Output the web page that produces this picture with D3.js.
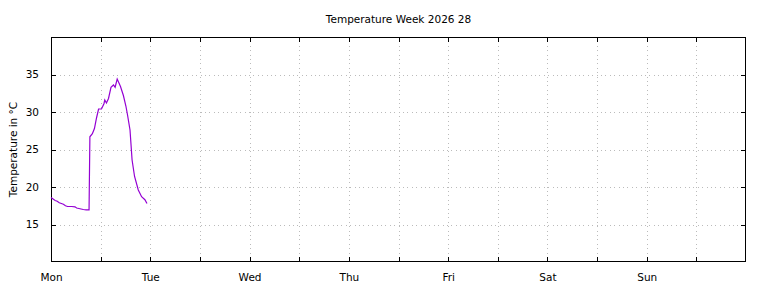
<!DOCTYPE html>
<html>
<head>
<meta charset="utf-8">
<script src="https://cdn.jsdelivr.net/npm/d3@7"></script>
<style>
  body { margin: 0; background: #fff; }
  text { font-family: "DejaVu Sans", sans-serif; }
</style>
</head>
<body>
<div id="chart"></div>
<script>
// Temperature over the week, hours since Monday 00:00
const title = "Temperature Week 2026 28";
const yLabel = "Temperature in °C";
const dayLabels = ["Mon", "Tue", "Wed", "Thu", "Fri", "Sat", "Sun"];
const yTicks = [15, 20, 25, 30, 35];

const hours = [0.0, 0.5, 1.0, 1.5, 2.0, 2.5, 3.0, 3.5, 4.0, 5.0, 5.8, 6.2, 7.0, 7.8, 8.5, 9.2,
  9.4, 10.0, 10.5, 11.0, 11.5, 12.2, 12.8, 13.0, 13.4, 13.9, 14.5, 15.1, 15.5, 16.0,
  16.8, 17.5, 18.1, 18.5, 19.1, 19.6, 20.2, 21.1, 21.9, 22.7, 23.2];
const temps = [18.6, 18.4, 18.2, 18.1, 17.9, 17.8, 17.7, 17.5, 17.4, 17.4, 17.35, 17.2, 17.1, 17.0, 16.95, 16.95,
  26.7, 27.1, 27.8, 29.2, 30.4, 30.4, 31.1, 31.6, 31.2, 31.8, 33.3, 33.6, 33.3, 34.4,
  33.4, 32.2, 30.8, 29.6, 27.6, 23.6, 21.4, 19.6, 18.7, 18.3, 17.8];

const width = 768, height = 288;
const margin = {top: 37, right: 22, bottom: 26, left: 51};

const svg = d3.select("#chart")
    .append("svg")
    .attr("width", width)
    .attr("height", height);

const x = d3.scaleLinear().domain([0, 168]).range([margin.left, width - margin.right]);
const y = d3.scaleLinear().domain([10, 40]).range([height - margin.bottom, margin.top]);

const xTicks = d3.range(12, 168, 12);

// grid
const grid = svg.append("g")
    .attr("stroke", "#bbb")
    .attr("stroke-width", 1)
    .attr("stroke-dasharray", "1,3.4")
    .attr("shape-rendering", "crispEdges");

grid.selectAll(".vg")
    .data(xTicks)
    .enter()
    .append("line")
    .attr("x1", d => Math.round(x(d)) + 0.5)
    .attr("x2", d => Math.round(x(d)) + 0.5)
    .attr("y1", y(40))
    .attr("y2", y(10));

grid.selectAll(".hg")
    .data(yTicks)
    .enter()
    .append("line")
    .attr("x1", x(0))
    .attr("x2", x(168))
    .attr("y1", d => Math.round(y(d)) + 0.5)
    .attr("y2", d => Math.round(y(d)) + 0.5);

// axes (ticks inward, mirrored)
const tickFmt = d => d % 24 === 0 ? dayLabels[d / 24] : "";

const xAxis = svg.append("g")
    .attr("transform", `translate(0,${height - margin.bottom})`)
    .call(d3.axisBottom(x).tickValues(d3.range(0, 168, 12)).tickSize(-5).tickSizeOuter(0).tickPadding(12).tickFormat(tickFmt));

svg.append("g")
    .attr("transform", `translate(0,${margin.top})`)
    .call(d3.axisTop(x).tickValues(xTicks).tickSize(-5).tickSizeOuter(0).tickFormat(""));

const yAxis = svg.append("g")
    .attr("transform", `translate(${margin.left},0)`)
    .call(d3.axisLeft(y).tickValues(yTicks).tickSize(-5).tickSizeOuter(0).tickPadding(12));

svg.append("g")
    .attr("transform", `translate(${width - margin.right},0)`)
    .call(d3.axisRight(y).tickValues(yTicks).tickSize(-5).tickSizeOuter(0).tickFormat(""));

svg.selectAll(".domain").remove();
svg.selectAll(".tick line").attr("stroke", "#000").attr("shape-rendering", "crispEdges");
svg.selectAll(".tick text").attr("font-family", "DejaVu Sans").attr("font-size", "10.5px").attr("fill", "#000");

// border
svg.append("rect")
    .attr("x", margin.left + 0.5)
    .attr("y", margin.top + 0.5)
    .attr("width", width - margin.left - margin.right - 1)
    .attr("height", height - margin.top - margin.bottom - 1)
    .attr("fill", "none")
    .attr("stroke", "#000")
    .attr("stroke-width", 1)
    .attr("shape-rendering", "crispEdges");

// data line
const line = d3.line()
    .x((d, i) => x(hours[i]))
    .y(d => y(d));

svg.append("path")
    .datum(temps)
    .attr("fill", "none")
    .attr("stroke", "#9400d3")
    .attr("stroke-width", 1.2)
    .attr("d", line);

// title and labels
svg.append("text")
    .attr("x", (margin.left + width - margin.right) / 2)
    .attr("y", 23)
    .attr("text-anchor", "middle")
    .attr("font-size", "10.5px")
    .text(title);

svg.append("text")
    .attr("transform", `translate(17,${(margin.top + height - margin.bottom) / 2}) rotate(-90)`)
    .attr("text-anchor", "middle")
    .attr("font-size", "10.5px")
    .text(yLabel);
</script>
</body>
</html>
